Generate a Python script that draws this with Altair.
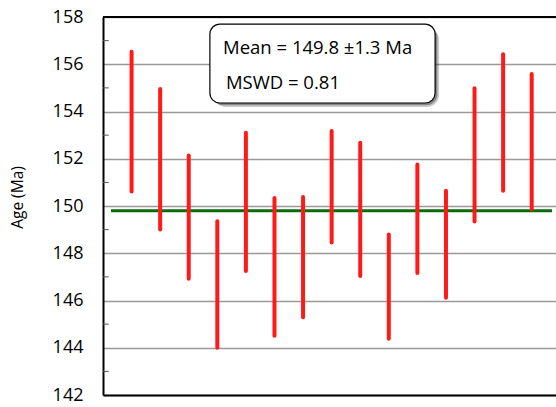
import altair as alt
import pandas as pd

# ---- data ----
sample = list(range(1, 16))
age_high = [156.53, 154.95, 152.14, 149.35, 153.10, 150.34, 150.38, 153.17,
            152.68, 148.79, 151.76, 150.65, 154.98, 156.42, 155.59]
age_low = [150.61, 149.01, 146.92, 144.00, 147.25, 144.51, 145.29, 148.46,
           147.04, 144.38, 147.16, 146.12, 149.34, 150.65, 149.86]
mean_age = 149.8
y_ticks = [142, 144, 146, 148, 150, 152, 154, 156, 158]
minor_ticks = [143, 145, 147, 149, 151, 153, 155, 157]
y_title = "Age (Ma)"
note_lines = ["Mean  = 149.8 \u00b11.3 Ma", "MSWD = 0.81"]
note_line_y = [156.69, 155.21]
note_line_x = [4.20, 4.30]
note_box = {"x": [3.74], "x2": [11.62], "y": [157.70], "y2": [154.36]}

X_DOM = [0, 15.85]
Y_DOM = [142, 158]
FONT = "Open Sans"

xs = alt.Scale(domain=X_DOM, nice=False, zero=False)
ys = alt.Scale(domain=Y_DOM, nice=False, zero=False)

yax = alt.Axis(values=y_ticks, title=None)
xax = alt.Axis(labels=False, ticks=False, title=None, grid=False)

bars_df = pd.DataFrame({"sample": sample, "lo": age_low, "hi": age_high})
minor_df = pd.DataFrame({"v": minor_ticks, "x0": 0.0, "x1": 0.2})
mean_df = pd.DataFrame({"y": [mean_age], "x0": [0.28], "x1": [15.71]})
top_df = pd.DataFrame({"y": [Y_DOM[1]], "x0": [X_DOM[0]], "x1": [X_DOM[1]]})
box_df = pd.DataFrame(note_box)
shadow1 = pd.DataFrame({"x": [note_box["x"][0] + 0.14], "x2": [note_box["x2"][0] + 0.14],
                        "y": [note_box["y"][0] - 0.17], "y2": [note_box["y2"][0] - 0.17]})
shadow2 = pd.DataFrame({"x": [note_box["x"][0] + 0.08], "x2": [note_box["x2"][0] + 0.08],
                        "y": [note_box["y"][0] - 0.10], "y2": [note_box["y2"][0] - 0.10]})
text_df = pd.DataFrame({"t": note_lines, "x": note_line_x, "y": note_line_y})
title_df = pd.DataFrame({"t": [y_title], "x": [-2.98], "y": [150.36]})

minor = alt.Chart(minor_df).mark_rule(color="#555555", strokeWidth=1).encode(
    x=alt.X("x0:Q", scale=xs, axis=xax), x2="x1:Q",
    y=alt.Y("v:Q", scale=ys, axis=yax))

top = alt.Chart(top_df).mark_rule(color="black", strokeWidth=2).encode(
    x=alt.X("x0:Q", scale=xs, axis=xax), x2="x1:Q",
    y=alt.Y("y:Q", scale=ys, axis=yax))

mean_line = alt.Chart(mean_df).mark_rule(color="#0c6a0c", strokeWidth=3).encode(
    x=alt.X("x0:Q", scale=xs, axis=xax), x2="x1:Q",
    y=alt.Y("y:Q", scale=ys, axis=yax))

bars = alt.Chart(bars_df).mark_rule(color="#ff1a1a", strokeWidth=4, strokeCap="round").encode(
    x=alt.X("sample:Q", scale=xs, axis=xax),
    y=alt.Y("lo:Q", scale=ys, axis=yax), y2="hi:Q")

sh1 = alt.Chart(shadow1).mark_rect(fill="#333333", opacity=0.25, cornerRadius=12).encode(
    x=alt.X("x:Q", scale=xs, axis=xax), x2="x2:Q",
    y=alt.Y("y:Q", scale=ys, axis=yax), y2="y2:Q")
sh2 = alt.Chart(shadow2).mark_rect(fill="#333333", opacity=0.45, cornerRadius=11).encode(
    x=alt.X("x:Q", scale=xs, axis=xax), x2="x2:Q",
    y=alt.Y("y:Q", scale=ys, axis=yax), y2="y2:Q")
box = alt.Chart(box_df).mark_rect(fill="white", stroke="black", strokeWidth=1.2,
                                  cornerRadius=10).encode(
    x=alt.X("x:Q", scale=xs, axis=xax), x2="x2:Q",
    y=alt.Y("y:Q", scale=ys, axis=yax), y2="y2:Q")

texts = alt.Chart(text_df).mark_text(font=FONT, fontSize=18.5, color="black",
                                     align="left", baseline="middle").encode(
    x=alt.X("x:Q", scale=xs, axis=xax),
    y=alt.Y("y:Q", scale=ys, axis=yax), text="t:N")

ytitle = alt.Chart(title_df).mark_text(font=FONT, fontSize=15.5, color="black",
                                       align="center", baseline="middle",
                                       angle=270, clip=False).encode(
    x=alt.X("x:Q", scale=xs, axis=xax),
    y=alt.Y("y:Q", scale=ys, axis=yax), text="t:N")

chart = alt.layer(minor, top, mean_line, bars, sh1, sh2, box, texts, ytitle).properties(
    width=453, height=378, autosize="none",
    padding={"left": 103, "top": 17, "right": 0, "bottom": 12},
).configure_view(stroke="#999999", strokeWidth=1, fill="#e1e1e1"
).configure(background="white"
).configure_axisY(
    labelFont=FONT, labelFontSize=18, labelColor="black", labelPadding=20,
    ticks=False, tickSize=0, domainColor="black", domainWidth=2, grid=True,
    gridColor="#999999", gridWidth=1.5
).configure_axisX(
    domainColor="black", domainWidth=2, labels=False, ticks=False, grid=False
)

chart.save("out.html", embed_options={"renderer": "svg", "actions": False})
